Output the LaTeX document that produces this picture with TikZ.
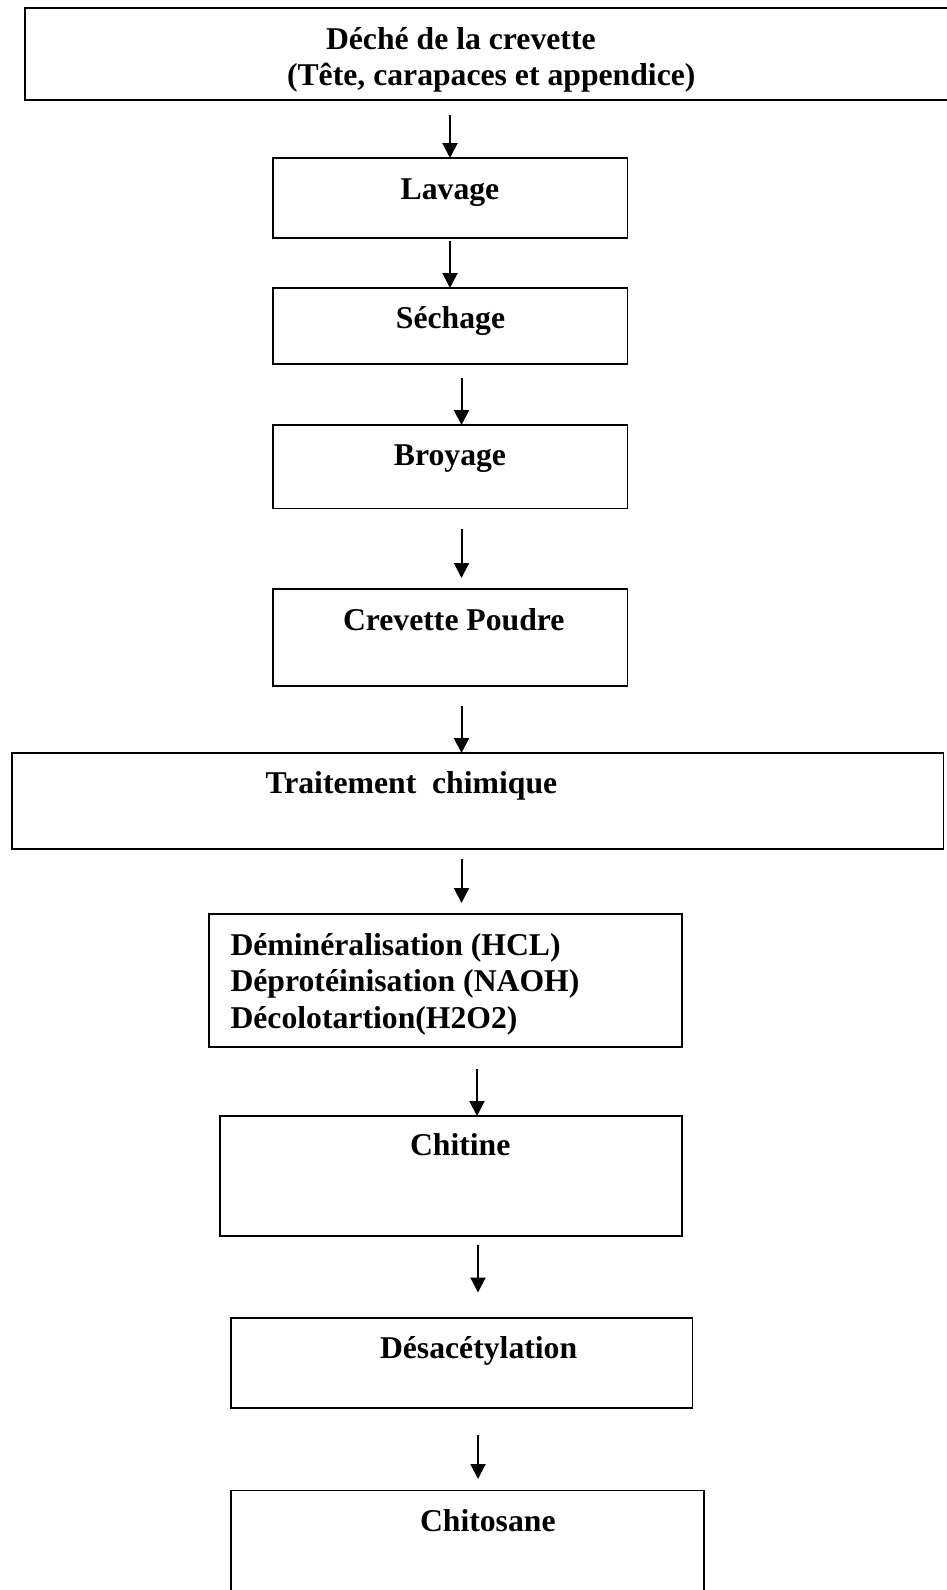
\documentclass[tikz,border=0pt]{standalone}
\usepackage{fontspec}
\setmainfont{Liberation Serif}
\usetikzlibrary{arrows.meta}
\newcommand{\lblfont}{\fontsize{31.7pt}{36.5pt}\selectfont\bfseries}
\begin{document}
\begin{tikzpicture}[x=1pt,y=-1pt,
  box/.style={draw, line width=1.9pt, inner sep=0pt, outer sep=0pt},
  lbl/.style={anchor=base west, inner sep=0pt, outer sep=0pt, font=\lblfont},
  lblc/.style={anchor=base, inner sep=0pt, outer sep=0pt, font=\lblfont},
  arr/.style={line width=2pt, -{Triangle[length=15pt,width=15pt]}}]
\fill[white] (0,0) rectangle (946,1590);
\useasboundingbox (0,0) rectangle (946,1590);
% boxes
\node[box, minimum width=923pt, minimum height=92pt] (top) at (486.5,54) {};
\node[box, minimum width=354.5pt, minimum height=80pt] (lav) at (450.25,198) {};
\node[box, minimum width=354.5pt, minimum height=76pt] (sech) at (450.25,326) {};
\node[box, minimum width=354.5pt, minimum height=83.5pt] (broy) at (450.25,466.75) {};
\node[box, minimum width=354.5pt, minimum height=97pt] (crev) at (450.25,637.5) {};
\node[box, minimum width=931.5pt, minimum height=96pt] (trait) at (477.75,801) {};
\node[box, minimum width=473pt, minimum height=133pt] (demin) at (445.5,980.5) {};
\node[box, minimum width=462pt, minimum height=120pt] (chit) at (451,1176) {};
\node[box, minimum width=461.5pt, minimum height=90pt] (desac) at (461.75,1363) {};
\node[box, minimum width=473pt, minimum height=102.5pt] (chito) at (467.5,1541.75) {};
% texts
\node[lbl] (t1a) at (326,49) {Déché de la crevette};
\node[lbl] (t1b) at (287,85.5) {(Tête, carapaces et appendice)};
\node[lblc] (t2) at (450,199) {Lavage};
\node[lblc] (t3) at (450.5,328.5) {Séchage};
\node[lblc] (t4) at (450,465) {Broyage};
\node[lbl] (t5) at (343,630) {Crevette Poudre};
\node[lbl] (t6) at (265.5,793) {Traitement\ \ chimique};
\node[lbl] (t7a) at (230.5,955) {Déminéralisation (HCL)};
\node[lbl] (t7b) at (230.5,991.5) {Déprotéinisation (NAOH)};
\node[lbl] (t7c) at (230.5,1028) {Décolotartion(H2O2)};
\node[lbl] (t8) at (410,1155) {Chitine};
\node[lbl] (t9) at (380,1358) {Désacétylation};
\node[lbl] (t10) at (420,1531.5) {Chitosane};
% arrows
\coordinate (s1) at (450,115);
\coordinate (s2) at (450,241);
\coordinate (s3) at (461.5,378);
\coordinate (s4) at (461.5,529);
\coordinate (e4) at (461.5,578);
\coordinate (s5) at (461.5,706);
\coordinate (s6) at (461.5,859);
\coordinate (e6) at (461.5,903);
\coordinate (s7) at (477,1069);
\coordinate (s8) at (478,1245);
\coordinate (e8) at (478,1292.5);
\coordinate (s9) at (478,1435);
\coordinate (e9) at (478,1479);
\draw[arr] (s1) -- (s1 |- lav.north);
\draw[arr] (s2) -- (s2 |- sech.north);
\draw[arr] (s3) -- (s3 |- broy.north);
\draw[arr] (s4) -- (e4);
\draw[arr] (s5) -- (s5 |- trait.north);
\draw[arr] (s6) -- (e6);
\draw[arr] (s7) -- (s7 |- chit.north);
\draw[arr] (s8) -- (e8);
\draw[arr] (s9) -- (e9);
\end{tikzpicture}
\end{document}
